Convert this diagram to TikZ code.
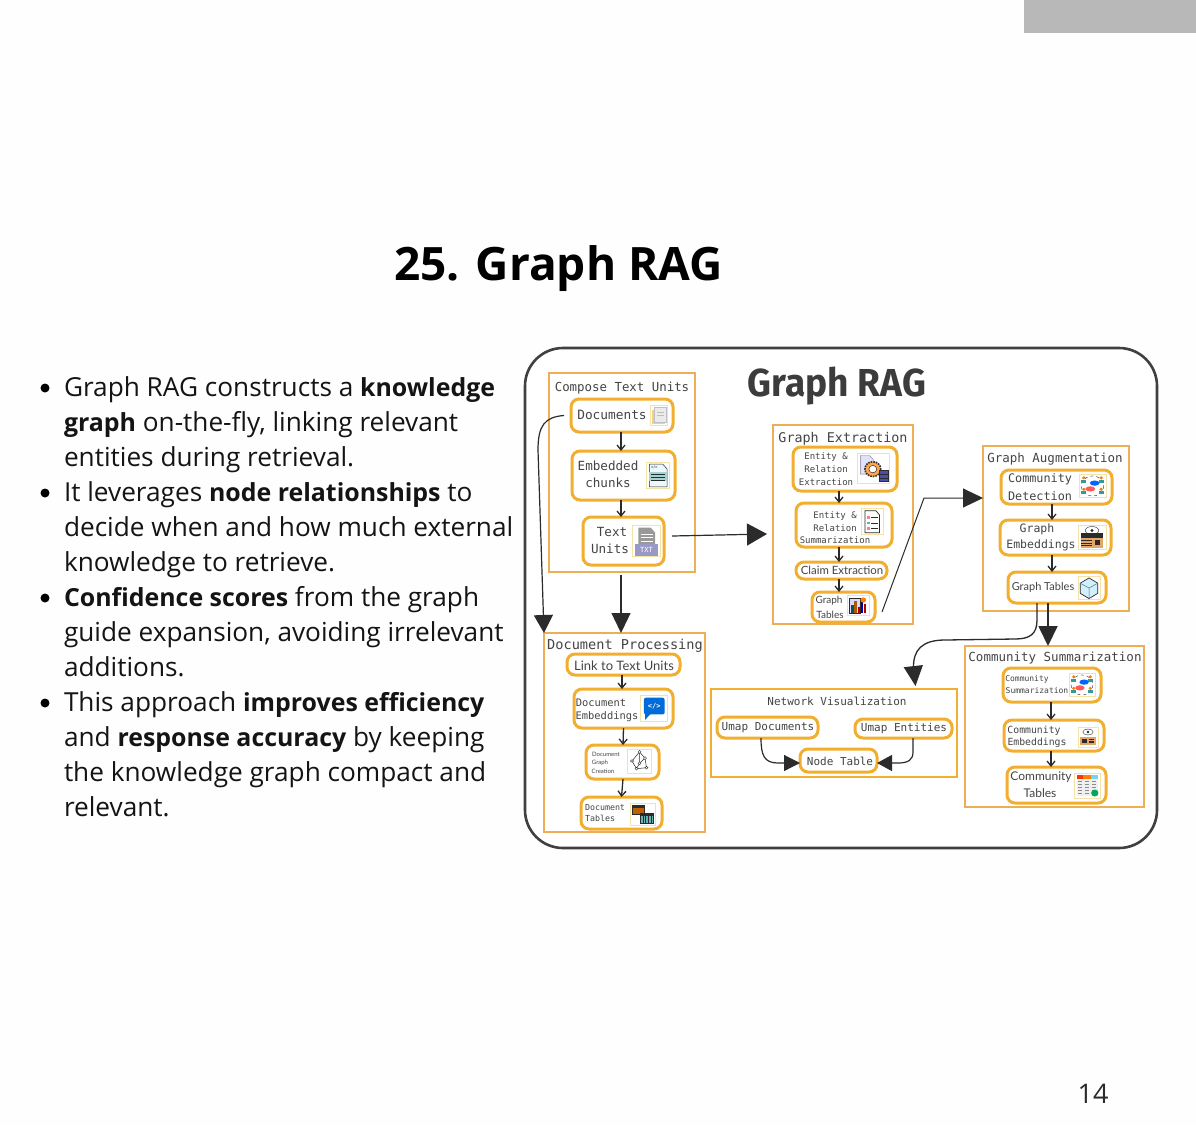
\documentclass[tikz,border=0pt]{standalone}
\usepackage{fontspec}
\setmainfont{Open Sans}
\newfontfamily\monof{DejaVu Sans Mono}
\newfontfamily\humf{Lato}
\newfontfamily\fira{Fira Sans}
\usetikzlibrary{arrows.meta,calc}
\definecolor{ora}{HTML}{F2AE2E}
\definecolor{oral}{HTML}{EDAE55}
\definecolor{ink}{HTML}{2B2B2B}
\definecolor{txt}{HTML}{444444}
\definecolor{frm}{HTML}{F4E2A6}
\newcommand\fs[1]{\fontsize{#1}{#1}\selectfont}
\newcommand\mo[1]{\monof\fs{#1}}
\newcommand\hu[1]{\humf\fs{#1}}
\newcommand\bb[1]{{\bfseries\fontsize{24.9}{35}\selectfont #1}}
\newcommand\bx[6]{\node[#1,minimum width=#5pt-#3pt,minimum height=#6pt-#4pt] (#2) at ({(#3+#5)/2},{(#4+#6)/2}) {};}
\newcommand\lb[5]{\node[lbl,font=#4] (#1) at (#2,#3+0.7) {#5};}
\newcommand\icon[5]{\begin{scope}[shift={(#1,#2)}]\begin{scope}[x={#3*0.01pt},y={#4*-0.01pt}]
\draw[frm,line width=1pt] (0,0) rectangle (100,100);#5\end{scope}\end{scope}}
\tikzset{
 lbl/.style={inner sep=0pt,outer sep=0pt,text=txt},
 outerbox/.style={draw=oral,line width=1.4pt,inner sep=0pt,outer sep=0pt},
 netbox/.style={draw=ora,line width=2.4pt,inner sep=0pt,outer sep=0pt},
 inner/.style={draw=ora,line width=3pt,rounded corners=8pt,fill=white,inner sep=0pt,outer sep=0pt},
 small/.style={draw=ink,line width=1.3pt,-{Straight Barb[length=5pt,width=8pt]}},
 bigv/.style={draw=ink,line width=1.2pt,-{Triangle[length=20pt,width=19pt]}},
 para/.style={anchor=north west,align=left,inner sep=0pt,outer sep=0pt,text=black!92,font=\fontsize{26.2}{35}\selectfont},
 bul/.style={circle,fill=black,inner sep=0pt,minimum size=9pt},
}
\begin{document}
\begin{tikzpicture}[x=1pt,y=-1pt]
\useasboundingbox (0,0) rectangle (1196,1125);
\fill[white!99.5!black] (0,0) rectangle (1196,1125);
\fill[black!28] (1024,0) rectangle (1196,33);
\node[inner sep=0pt,font=\bfseries\fontsize{46}{46}\selectfont,text=black] (head) at (558.5,268.5) {25. Graph RAG};
\node[inner sep=0pt,font=\fontsize{27}{27}\selectfont,text=ink] (pg) at (1093,1094) {14};
% bullets
\node[bul] (b1) at (45,388) {};
\node[para] (p1) at (64,376.3) {Graph RAG constructs a \bb{knowledge}\\ \bb{graph} on-the-fly, linking relevant\\ entities during retrieval.};
\node[bul] (b2) at (45,493) {};
\node[para] (p2) at (64,481.3) {It leverages \bb{node relationships} to\\ decide when and how much external\\ knowledge to retrieve.};
\node[bul] (b3) at (45,598) {};
\node[para] (p3) at (64,586.3) {\bb{Confidence scores} from the graph\\ guide expansion, avoiding irrelevant\\ additions.};
\node[bul] (b4) at (45,703) {};
\node[para] (p4) at (64,691.3) {This approach \bb{improves efficiency}\\ and \bb{response accuracy} by keeping\\ the knowledge graph compact and\\ relevant.};
% frame
\node[draw=ink!90,line width=2.6pt,rounded corners=38pt,fill=white,minimum width=632pt,minimum height=500pt,inner sep=0pt,outer sep=0pt] (frame) at (841,598) {};
\node[inner sep=0pt,text=ink!92,font=\fira\bfseries\fontsize{39}{39}\selectfont,xscale=.95] (gr) at (837,386) {Graph RAG};
% outer boxes
\bx{outerbox}{cu}{549}{373}{695}{572}
\bx{outerbox}{ge}{773}{425}{913}{624}
\bx{outerbox}{ga}{983}{446}{1129}{611}
\bx{outerbox}{cs}{965}{646}{1144}{807}
\bx{outerbox}{dp}{544}{633}{705}{832}
\bx{netbox}{nv}{711}{689}{957}{777}
% inner boxes
\bx{inner}{docs}{571}{399}{673}{432}
\bx{inner}{emb}{572}{451}{675}{500}
\bx{inner}{tu}{583}{517}{664}{565}
\bx{inner}{e1}{793}{447}{897}{491}
\bx{inner}{e2}{796}{503}{892}{547}
\bx{inner}{claim}{796}{562}{887}{579}
\bx{inner}{gt}{812}{592}{875}{622}
\bx{inner}{cd}{1001}{470}{1112}{504}
\bx{inner}{gem}{1000}{520}{1111}{555}
\bx{inner}{gta}{1008}{572}{1106}{603}
\bx{inner}{c1}{1003}{668}{1101}{702}
\bx{inner}{c2}{1004}{720}{1104}{751}
\bx{inner}{c3}{1007}{767}{1106}{803}
\bx{inner}{link}{567}{654}{680}{675}
\bx{inner}{dem}{574}{689}{673}{728}
\bx{inner}{dg}{586}{745}{659}{779}
\bx{inner}{dt}{581}{797}{662}{829}
\bx{inner}{ud}{717}{717}{818}{738}
\bx{inner}{ue}{855}{719}{952}{738}
\bx{inner}{nt}{800}{749}{877}{772}
% titles
\lb{t1}{622}{387}{\mo{12.4}}{Compose Text Units}
\lb{t2}{843}{438}{\mo{13.4}}{Graph Extraction}
\lb{t3}{1055}{458}{\mo{12.5}}{Graph Augmentation}
\lb{t4}{1055}{657}{\mo{12.5}}{Community Summarization}
\lb{t5}{625}{645}{\mo{13.6}}{Document Processing}
\lb{t6}{837}{701}{\mo{11}}{Network Visualization}
% labels
\lb{l1}{612}{414}{\mo{12.8}}{Documents}
\lb{l2}{608}{465}{\mo{12.6}}{Embedded}
\lb{l3}{608}{482}{\mo{12.6}}{chunks}
\lb{l4}{612}{531}{\mo{12.6}}{Text}
\lb{l5}{610}{548}{\mo{12.6}}{Units}
\lb{l6}{826}{456}{\mo{9}}{Entity \&}
\lb{l7}{826}{468}{\mo{9}}{Relation}
\lb{l8}{826}{481}{\mo{9}}{Extraction}
\lb{l9}{835}{515}{\mo{9}}{Entity \&}
\lb{l10}{835}{527}{\mo{9}}{Relation}
\lb{l11}{835}{539}{\mo{9}}{Summarization}
\lb{l12}{842}{570}{\hu{11.4}}{Claim Extraction}
\lb{l13}{829}{600}{\hu{10}}{Graph}
\lb{l14}{830}{614}{\hu{10}}{Tables}
\lb{l15}{1040}{479}{\mo{11.8}}{Community}
\lb{l16}{1040}{495}{\mo{11.8}}{Detection}
\lb{l17}{1037}{529}{\mo{11.5}}{Graph}
\lb{l18}{1041}{545}{\mo{11.5}}{Embeddings}
\lb{l19}{1043}{587}{\hu{11}}{Graph Tables}
\lb{l20}{1027}{679}{\mo{8}}{Community}
\lb{l21}{1037}{690}{\mo{8}}{Summarization}
\lb{l22}{1034}{730}{\mo{9.8}}{Community}
\lb{l23}{1037}{742}{\mo{9.8}}{Embeddings}
\lb{l24}{1041}{776}{\hu{12}}{Community}
\lb{l25}{1040}{792}{\hu{12}}{Tables}
\lb{l26}{624}{665}{\hu{13}}{Link to Text Units}
\lb{l27}{601}{702}{\mo{10.4}}{Document}
\lb{l28}{607}{716}{\mo{10.4}}{Embeddings}
\lb{l29}{606}{754}{\hu{6}}{Document}
\lb{l30}{600}{762}{\hu{6}}{Graph}
\lb{l31}{603}{771}{\hu{6}}{Creation}
\lb{l32}{605}{807}{\mo{8.3}}{Document}
\lb{l33}{600}{818}{\mo{8.3}}{Tables}
\lb{l34}{768}{727}{\mo{11}}{Umap Documents}
\lb{l35}{904}{728}{\mo{11}}{Umap Entities}
\lb{l36}{840}{761}{\mo{11}}{Node Table}
% icons
\icon{650}{405}{18}{21}{\fill[frm!80!orange] (12,22) rectangle (82,92);\fill[black!8,draw=black!25] (25,10) rectangle (88,80);\draw[black!25] (40,35)--(75,35) (40,48)--(75,48);}
\icon{646}{462}{24}{27}{\fill[cyan!8,draw=ink,line width=.5pt] (14,8)--(70,8)--(88,26)--(88,92)--(14,92)--cycle;\fill[teal!35] (14,36) rectangle (88,72);\draw[ink,line width=.4pt] (22,46)--(80,46) (22,56)--(80,56) (22,66)--(80,66);\node[inner sep=0pt,font=\mo{3.5}] (ic2) at (35,20) {</>};}
\icon{632}{525}{29}{32}{\fill[black!40] (22,8)--(64,8)--(80,24)--(80,60)--(22,60)--cycle;\draw[white,line width=.7pt] (30,30)--(72,30) (30,40)--(72,40) (30,50)--(72,50);\fill[blue!45!black!40!white] (12,58) rectangle (90,96);\node[inner sep=0pt,text=white,font=\mo{7}] (ic3) at (50,77) {TXT};}
\icon{857}{453}{33}{31}{\fill[blue!12,draw=black!50,line width=.4pt] (10,8)--(38,8)--(50,22)--(50,68)--(10,68)--cycle;\draw[black!80,densely dotted,line width=1.6pt,fill=orange!70] (48,52) circle (24);\draw[ink,fill=white,line width=.5pt] (48,52) circle (12);\fill[blue!55!black!70!white,draw=ink,line width=.3pt] (68,56) rectangle (94,92);\draw[ink,line width=.3pt] (68,68)--(94,68) (68,80)--(94,80);}
\icon{861}{508}{22}{27}{\fill[white,draw=ink,line width=.7pt] (18,10)--(68,10)--(84,26)--(84,92)--(18,92)--cycle;\fill[red!50] (28,30) rectangle (40,40);\fill[teal!60] (28,50) rectangle (40,60);\fill[red!50] (28,70) rectangle (40,80);\draw[ink,line width=.7pt] (46,35)--(76,35) (46,55)--(76,55) (46,75)--(76,75);}
\icon{847}{595}{22}{20}{\fill[blue!15,draw=ink,line width=.4pt] (8,15) rectangle (60,90);\foreach\xx/\cc/\hh in {20/teal/40,34/orange/60,48/red/30,62/blue/70,76/red/45}{\fill[\cc!70!black] (\xx,90) rectangle ++(10,-\hh);}\fill[orange] (74,25) circle (13);}
\icon{1079}{474}{27}{24}{\draw[ink,dashed,line width=.4pt] (50,50) circle (42);\foreach\xx/\yy in {18/24,82/24,18/72,82/72}{\fill[orange!80!brown] (\xx,\yy-8) circle (7);\fill[teal!80] (\xx-9,\yy+12) rectangle (\xx+9,\yy);}\fill[blue!60!cyan] (58,38) ellipse (18 and 11);\fill[red!65] (42,62) ellipse (18 and 11);}
\icon{1078}{525}{28}{25}{\draw[ink,fill=white,line width=.4pt] (50,22) ellipse (24 and 16);\fill[ink] (50,22) circle (6);\fill[ink] (12,32) rectangle (88,50);\fill[orange!40!brown!70] (12,50) rectangle (88,92);\draw[ink,line width=.5pt] (12,62)--(50,62) (12,72)--(50,72) (12,82)--(50,82);\fill[ink] (60,60) rectangle (80,82);}
\icon{1078}{576}{22}{24}{\draw[ink,fill=cyan!18,line width=.7pt] (50,8)--(90,30)--(90,72)--(50,94)--(10,72)--(10,30)--cycle;\draw[cyan!50!black,line width=.5pt] (50,50)--(50,94) (50,50)--(10,30) (50,50)--(90,30);}
\icon{640}{695}{28}{27}{\fill[blue!50!cyan!85!black,rounded corners=2pt] (14,10) rectangle (88,72);\fill[blue!50!cyan!85!black] (18,70)--(18,92)--(38,70)--cycle;\node[inner sep=0pt,text=white,font=\bfseries\mo{7}] (ic10) at (51,41) {</>};}
\icon{627}{749}{25}{24}{\draw[ink,line width=.5pt] (50,12)--(20,50)--(38,82)--(78,78)--(72,38)--cycle (50,12)--(50,60)--(38,82) (50,60)--(72,38);\foreach\xx/\yy in {50/12,20/50,38/82,78/78,72/38,50/60}{\draw[ink,fill=white,line width=.4pt] (\xx,\yy) circle (6);}}
\icon{630}{803}{26}{22}{\fill[ink] (8,10) rectangle (58,55);\fill[orange!75!black] (12,22) rectangle (54,50);\fill[ink] (40,45) rectangle (94,95);\fill[teal!60] (44,58) rectangle (90,90);\foreach\xx in {50,60,70,80}{\draw[ink,line width=.5pt] (\xx,58)--(\xx,90);}}
\icon{1069}{673}{26}{24}{\draw[ink,dashed,line width=.4pt] (50,50) circle (42);\foreach\xx/\yy in {18/24,82/24,18/72,82/72}{\fill[orange!80!brown] (\xx,\yy-8) circle (7);\fill[teal!80] (\xx-9,\yy+12) rectangle (\xx+9,\yy);}\fill[blue!60!cyan] (58,38) ellipse (18 and 11);\fill[red!65] (42,62) ellipse (18 and 11);}
\icon{1078}{727}{20}{20}{\draw[ink,fill=white,line width=.4pt] (50,25) ellipse (26 and 15);\fill[ink] (50,25) circle (7);\fill[orange!40!brown!70] (12,48) rectangle (88,90);\fill[ink] (20,58) rectangle (44,80);\fill[ink] (56,58) rectangle (80,66);\fill[ink] (56,72) rectangle (80,80);}
\icon{1074}{773}{26}{25}{\fill[black!6] (10,8) rectangle (92,92);\fill[red!60!orange] (10,8) rectangle (36,22);\fill[orange] (36,8) rectangle (64,22);\fill[cyan!55] (64,8) rectangle (92,22);\foreach\yy in {32,44,56,68,80}{\draw[black!45,line width=.6pt] (16,\yy)--(32,\yy) (42,\yy)--(58,\yy) (68,\yy)--(86,\yy);}\fill[teal!70!green] (80,80) circle (14);}
% connectors
\draw[small] ([xshift=-1pt]docs.south) -- ([xshift=-2.5pt]emb.north);
\draw[small] ([xshift=-2.5pt]emb.south) -- ([xshift=-2.5pt]tu.north);
\draw[bigv,-{Triangle[length=18pt,width=19pt]}] ([xshift=-7pt]docs.west) .. controls (545,417) and (538,425) .. (538,450) -- (dp.north west);
\draw[bigv,line width=1.3pt] ([xshift=-1pt,yshift=-3pt]cu.south) -- ([xshift=-3.5pt]dp.north);
\draw[bigv,-{Triangle[length=20pt,width=22pt]}] ([xshift=8pt,yshift=5pt]tu.east) -- ([xshift=-6pt,yshift=-9.5pt]ge.west);
\draw[small] ([xshift=-6pt]e1.south) -- ([xshift=-5pt]e2.north);
\draw[small] ([xshift=-5pt]e2.south) -- ([xshift=-2.5pt]claim.north);
\draw[small] ([xshift=-2.5pt]claim.south) -- ([xshift=-4.5pt]gt.north);
\coordinate (bend1) at (924,498);
\draw[bigv,line width=1pt,-{Triangle[length=20pt,width=19pt]}] ([xshift=7pt,yshift=-5pt]gt.east) -- (bend1) -- ([yshift=30.5pt]ga.west);
\draw[small] ([xshift=-4.5pt]cd.south) -- ([xshift=-3.5pt]gem.north);
\draw[small] ([xshift=-3.5pt]gem.south) -- ([xshift=-5pt]gta.north);
\draw[bigv,line width=1.3pt] ([xshift=-20pt]gta.south) -- (1037,620) .. controls (1037,634) and (1030,639) .. (1015,639) -- (945,640) .. controls (922,640) and (913,650) .. (913.5,668) -- ([xshift=81.5pt,yshift=3pt]nv.north);
\draw[bigv,line width=1.8pt] ([xshift=-9pt]gta.south) -- ([xshift=-6.5pt]cs.north);
\draw[small] ([xshift=-1pt]c1.south) -- ([xshift=-3pt]c2.north);
\draw[small] ([xshift=-3pt]c2.south) -- ([xshift=-5.5pt]c3.north);
\draw[small] ([xshift=-1.5pt]link.south) -- ([xshift=-1.5pt]dem.north);
\draw[small] (dem.south) -- ([xshift=.5pt]dg.north);
\draw[small] ([xshift=.5pt]dg.south) -- (dt.north);
\draw[bigv,line width=1.2pt,-{Triangle[length=16pt,width=16pt]}] ([xshift=-6.5pt]ud.south) .. controls (761,755) and (764,763) .. (778,763) -- (nt.west |- 0,763);
\draw[bigv,line width=1.2pt,-{Triangle[length=15pt,width=16pt]}] ([xshift=9.5pt]ue.south) -- (913,752) .. controls (913,760) and (908,763) .. (898,763) -- (nt.east |- 0,763);
\end{tikzpicture}
\end{document}
